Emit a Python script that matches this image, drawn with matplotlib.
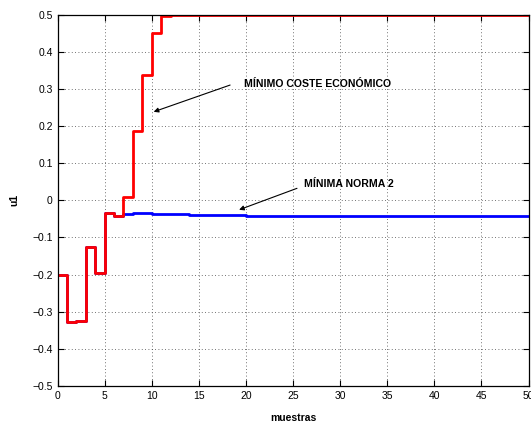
import numpy as np
import matplotlib.pyplot as plt

plt.rcParams['font.family'] = ['Liberation Sans', 'DejaVu Sans']

# control signal u1 per sample, economic-cost solution
k_eco = list(range(0, 51))
u_eco = [-0.200, -0.328, -0.326, -0.125, -0.197, -0.034, -0.042, 0.010, 0.186,
         0.337, 0.451, 0.497] + [0.500] * 39

# minimum 2-norm solution
k_norm = list(range(0, 51))
u_norm = [-0.200, -0.328, -0.326, -0.125, -0.197, -0.034, -0.042, -0.036, -0.034,
          -0.0345, -0.0355, -0.0365, -0.0375, -0.038, -0.039, -0.0395, -0.040, -0.0403,
          -0.0406, -0.0408] + [-0.041] * 31

fig = plt.figure(figsize=(5.31, 4.26), dpi=100)
ax = fig.add_axes([57.5 / 531, 1 - 386 / 426, 471 / 531, (386 - 14.7) / 426])

ax.step(k_norm, u_norm, where='post', color='blue', lw=2)
ax.step(k_eco, u_eco, where='post', color='red', lw=2)

ax.set_xlim(0, 50)
ax.set_ylim(-0.5, 0.5)
ax.set_xticks(np.arange(0, 51, 5))
ax.set_yticks(np.arange(-0.5, 0.51, 0.1))
ax.set_yticklabels(['\u22120.5', '\u22120.4', '\u22120.3', '\u22120.2', '\u22120.1',
                    '0', '0.1', '0.2', '0.3', '0.4', '0.5'])
ax.tick_params(direction='in', top=True, right=True, labelsize=7.5, length=4, width=0.8)
ax.grid(True, linestyle=(0, (1, 3)), color='#444444', linewidth=0.6)
for s in ax.spines.values():
    s.set_linewidth(0.9)

ax.set_xlabel('muestras', fontsize=7.5, fontweight='bold', labelpad=9)
ax.set_ylabel('u1', fontsize=7.5, fontweight='bold', labelpad=9)

arrow = dict(arrowstyle='-|>', color='black', lw=0.8, mutation_scale=7)
ax.annotate('', xy=(9.93, 0.236), xytext=(18.6, 0.313), arrowprops=arrow)
ax.text(19.8, 0.313, 'MÍNIMO COSTE ECONÓMICO', fontsize=7.6, fontweight='bold', va='center')
ax.annotate('', xy=(19.0, -0.028), xytext=(25.7, 0.035), arrowprops=arrow)
ax.text(26.2, 0.045, 'MÍNIMA NORMA 2', fontsize=7.6, fontweight='bold', va='center')

fig.savefig('out.png', dpi=100)
